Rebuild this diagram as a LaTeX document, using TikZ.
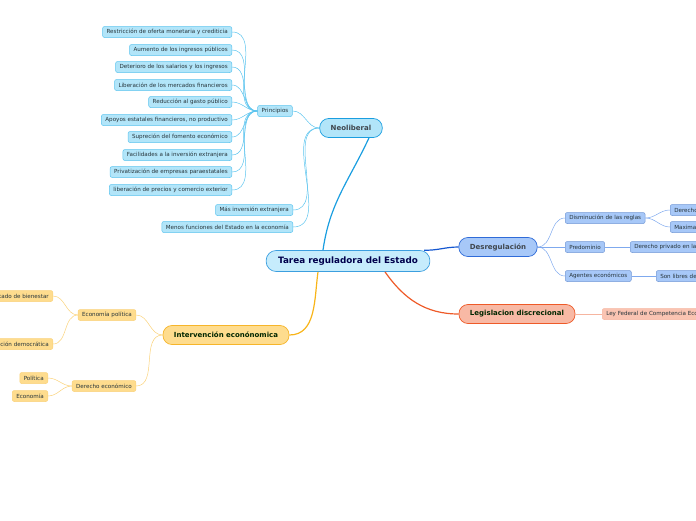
\documentclass[tikz,border=0pt]{standalone}
\usepackage{fontspec}
\setmainfont{DejaVu Sans}
\usetikzlibrary{positioning}

\definecolor{rootfill}{HTML}{C6ECFC}
\definecolor{rootdraw}{HTML}{3C9FDF}
\definecolor{neofill}{HTML}{B2E5F9}
\definecolor{neodraw}{HTML}{5CC4EE}
\definecolor{neolink}{HTML}{1A9EE0}
\definecolor{desfill}{HTML}{A7C8F8}
\definecolor{desdraw}{HTML}{2F6BD8}
\definecolor{desline}{HTML}{7FA9EE}
\definecolor{deslink}{HTML}{1557D0}
\definecolor{legfill}{HTML}{F8B9A5}
\definecolor{legdraw}{HTML}{EE5A28}
\definecolor{legsub}{HTML}{FAC4B2}
\definecolor{legline}{HTML}{F6B5A0}
\definecolor{intfill}{HTML}{FEDC8E}
\definecolor{intdraw}{HTML}{F6B52A}
\definecolor{intline}{HTML}{FAD27A}
\definecolor{intlink}{HTML}{F8B418}
\definecolor{subtext}{HTML}{26343A}

\begin{document}
\begin{tikzpicture}[x=1pt,y=-1pt]
\tikzstyle{topic}=[draw, rounded corners=9pt, minimum height=19pt, inner xsep=11pt, inner ysep=0pt, line width=0.7pt, font=\fontsize{7}{8}\selectfont\bfseries]
\tikzstyle{sub}=[draw, rounded corners=2pt, minimum height=11pt, inner xsep=4pt, inner ysep=0pt, line width=0.5pt, text=subtext, font=\fontsize{5.6}{6.5}\selectfont]
\tikzstyle{neo}=[sub, fill=neofill, draw=neodraw]
\tikzstyle{des}=[sub, fill=desfill, draw=desline!90!black]
\tikzstyle{leg}=[sub, fill=legsub, draw=legline]
\tikzstyle{int}=[sub, fill=intfill, draw=intline]
\tikzstyle{cut}=[text width=60pt, align=left]
\tikzstyle{link}=[line width=1.2pt]
\tikzstyle{twig}=[line width=0.5pt]

\useasboundingbox (0,0) rectangle (696,520);
\clip (0,0) rectangle (696,520);

% central topic
\node[topic, fill=rootfill, draw=rootdraw, text=blue!30!black, rounded corners=10pt, minimum height=21pt, inner xsep=12pt, font=\fontsize{8.8}{10}\selectfont\bfseries] (root) at (348,261) {Tarea reguladora del Estado};

% main topics
\node[topic, fill=neofill, draw=neolink, text=cyan!20!black] (neo) at (351,128) {Neoliberal};
\node[topic, fill=desfill, draw=desdraw, text=cyan!20!black] (des) at (498,247) {Desregulación};
\node[topic, fill=legfill, draw=legdraw, text=green!15!black] (leg) at (517,314) {Legislacion discrecional};
\node[topic, fill=intfill, draw=intdraw, text=green!15!black] (int) at (226,335) {Intervención econónomica};

% Neoliberal
\node[neo] (princ) at (275,111) {Principios};
\node[neo, anchor=east] (p1) at (232,32) {Restricción de oferta monetaria y crediticia};
\node[neo, anchor=east] (p2) at (232,50) {Aumento de los ingresos públicos};
\node[neo, anchor=east] (p3) at (232,67) {Deterioro de los salarios y los ingresos};
\node[neo, anchor=east] (p4) at (232,85) {Liberación de los mercados financieros};
\node[neo, anchor=east] (p5) at (232,102) {Reducción al gasto público};
\node[neo, anchor=east] (p6) at (232,120) {Apoyos estatales financieros, no productivo};
\node[neo, anchor=east] (p7) at (232,137) {Supreción del fomento económico};
\node[neo, anchor=east] (p8) at (232,155) {Facilidades a la inversión extranjera};
\node[neo, anchor=east] (p9) at (232,172) {Privatización de empresas paraestatales};
\node[neo, anchor=east] (p10) at (232,190) {liberación de precios y comercio exterior};
\node[neo, anchor=east] (mas) at (293,210) {Más inversión extranjera};
\node[neo, anchor=east] (menos) at (293,227) {Menos funciones del Estado en la economía};

% Desregulacion
\node[des, anchor=west] (dism) at (565,218) {Disminución de las reglas};
\node[des, anchor=west, cut] (dere) at (670,210) {Derecho};
\node[des, anchor=west, cut] (maxi) at (670,227) {Maxima};
\node[des, anchor=west] (pred) at (565,247) {Predominio};
\node[des, anchor=west, cut, text width=80pt] (priv) at (630,247) {Derecho privado en la};
\node[des, anchor=west] (agen) at (565,276) {Agentes económicos};
\node[des, anchor=west, cut] (libres) at (656,276) {Son libres de};

% Legislacion
\node[leg, anchor=west] (ley) at (602,314) {Ley Federal de Competencia Económica};

% Intervencion
\node[int] (ecopol) at (107,315) {Economía política};
\node[int, anchor=east] (bien) at (53,296) {Estado de bienestar};
\node[int, anchor=east] (plan) at (53,344) {Planeación democrática};
\node[int] (dereco) at (104,386) {Derecho económico};
\node[int, anchor=east] (poli) at (48,378) {Política};
\node[int, anchor=east] (econ) at (48,396) {Economía};

% main links
\draw[link, neolink] ([xshift=-25pt]root.north) to[out=82,in=245] ([xshift=18pt]neo.south);
\draw[link, deslink] ([xshift=-6pt]root.north east) to[out=-2,in=180] (des.west);
\draw[link, legdraw] ([xshift=37pt]root.south) to[out=-55,in=180] (leg.west);
\draw[link, intlink] ([xshift=-30pt]root.south) to[out=-98,in=0] (int.east);

% twigs
\draw[twig, neodraw] (neo.west) to[out=180,in=0] (princ.east);
\draw[twig, neodraw] (neo.west) to[out=180,in=0] (mas.east);
\draw[twig, neodraw] (neo.west) to[out=180,in=0] (menos.east);
\draw[twig, neodraw] (princ.west) to[out=180,in=0] (p1.east);
\draw[twig, neodraw] (princ.west) to[out=180,in=0] (p2.east);
\draw[twig, neodraw] (princ.west) to[out=180,in=0] (p3.east);
\draw[twig, neodraw] (princ.west) to[out=180,in=0] (p4.east);
\draw[twig, neodraw] (princ.west) to[out=180,in=0] (p5.east);
\draw[twig, neodraw] (princ.west) to[out=180,in=0] (p6.east);
\draw[twig, neodraw] (princ.west) to[out=180,in=0] (p7.east);
\draw[twig, neodraw] (princ.west) to[out=180,in=0] (p8.east);
\draw[twig, neodraw] (princ.west) to[out=180,in=0] (p9.east);
\draw[twig, neodraw] (princ.west) to[out=180,in=0] (p10.east);

\draw[twig, desline] (des.east) to[out=0,in=180] (dism.west);
\draw[twig, desline] (des.east) -- (pred.west);
\draw[twig, desline] (des.east) to[out=0,in=180] (agen.west);
\draw[twig, desline] (dism.east) to[out=0,in=180] (dere.west);
\draw[twig, desline] (dism.east) to[out=0,in=180] (maxi.west);
\draw[twig, desline] (pred.east) -- (priv.west);
\draw[twig, desline] (agen.east) -- (libres.west);

\draw[twig, legline] (leg.east) -- (ley.west);

\draw[twig, intline] (int.west) to[out=180,in=0] (ecopol.east);
\draw[twig, intline] (int.west) to[out=180,in=0] (dereco.east);
\draw[twig, intline] (ecopol.west) to[out=180,in=0] (bien.east);
\draw[twig, intline] (ecopol.west) to[out=180,in=0] (plan.east);
\draw[twig, intline] (dereco.west) to[out=180,in=0] (poli.east);
\draw[twig, intline] (dereco.west) to[out=180,in=0] (econ.east);
\end{tikzpicture}
\end{document}
